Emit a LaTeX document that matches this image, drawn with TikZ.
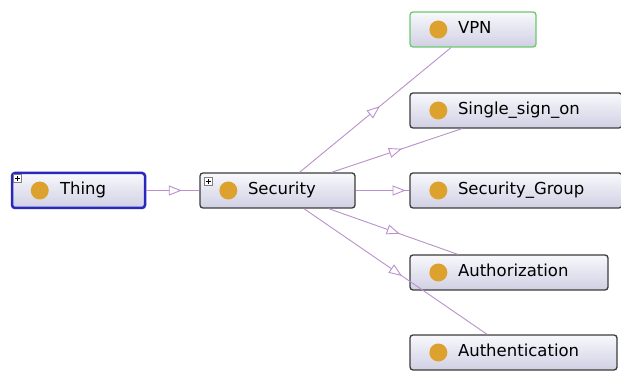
\documentclass[tikz,border=0pt]{standalone}
\usepackage{fontspec}
\setmainfont{DejaVu Sans}
\usetikzlibrary{arrows.meta,decorations.markings,calc}
\definecolor{edgecol}{RGB}{185,145,205}
\definecolor{boxtop}{RGB}{248,248,252}
\definecolor{boxbot}{RGB}{208,208,228}
\definecolor{dotcol}{RGB}{221,162,46}
\definecolor{thingblue}{RGB}{40,40,190}
\definecolor{vpngreen}{RGB}{110,200,110}
\definecolor{boxborder}{RGB}{60,60,60}
\tikzset{
 cls/.style={rectangle, rounded corners=3pt, draw=boxborder, line width=1.3pt,
   top color=boxtop, bottom color=boxbot, minimum height=35pt,
   inner xsep=0pt, inner ysep=0pt, text width=#1, align=left,
   text height=12pt, text depth=4pt, font=\fontsize{16.5}{19}\selectfont},
 dot/.style={circle, fill=dotcol, minimum size=18pt, inner sep=0pt},
 plusbox/.style={rectangle, draw=gray, fill=white, minimum size=8pt, inner sep=0pt, line width=0.6pt,
   path picture={\draw[line width=0.8pt, black]
     ([xshift=1.5pt]path picture bounding box.west) -- ([xshift=-1.5pt]path picture bounding box.east)
     ([yshift=-1.5pt]path picture bounding box.north) -- ([yshift=1.5pt]path picture bounding box.south);}},
 isa/.style={draw=edgecol, line width=0.9pt, postaction={decorate},
   decoration={markings, mark=at position #1 with {\arrow{Triangle[fill=white, length=13pt, width=10pt]}}}},
}
\begin{document}
\begin{tikzpicture}[x=1pt,y=-1pt]
\fill[white] (0,0) rectangle (621,371);
\useasboundingbox (0,0) rectangle (621,371);
\clip (0,0) rectangle (621,371);

\node[cls=133pt, draw=thingblue, line width=2.5pt] (thing) at (78.5,190.5) {\hspace*{48pt}Thing};
\node[cls=155pt] (security) at (277.5,190.5) {\hspace*{48pt}Security};
\node[cls=126pt, draw=vpngreen] (vpn) at (473,29.5) {\hspace*{48pt}VPN};
\node[cls=212pt] (sso) at (516,110.5) {\hspace*{48pt}Single\_sign\_on};
\node[cls=212pt] (sg) at (516,190.5) {\hspace*{48pt}Security\_Group};
\node[cls=198pt] (authz) at (509,272.5) {\hspace*{48pt}Authorization};
\node[cls=207pt] (authn) at (513.5,352.5) {\hspace*{48pt}Authentication};

\foreach \n in {thing,security,vpn,sso,sg,authz,authn}{
  \node[dot] (\n dot) at ([xshift=29pt]\n.west) {};
}
\node[plusbox] (thingplus) at ([xshift=7pt,yshift=-7pt]thing.north west) {};
\node[plusbox] (securityplus) at ([xshift=9pt,yshift=-9pt]security.north west) {};

\draw[isa=0.67] (thing) -- (security);
\draw[isa=0.53] (security) -- (vpn);
\draw[isa=0.54] (security) -- (sso);
\draw[isa=0.93] (security) -- (sg);
\draw[isa=0.55] (security) -- (authz);
\draw[isa=0.535] (security) -- (authn);
\end{tikzpicture}
\end{document}
